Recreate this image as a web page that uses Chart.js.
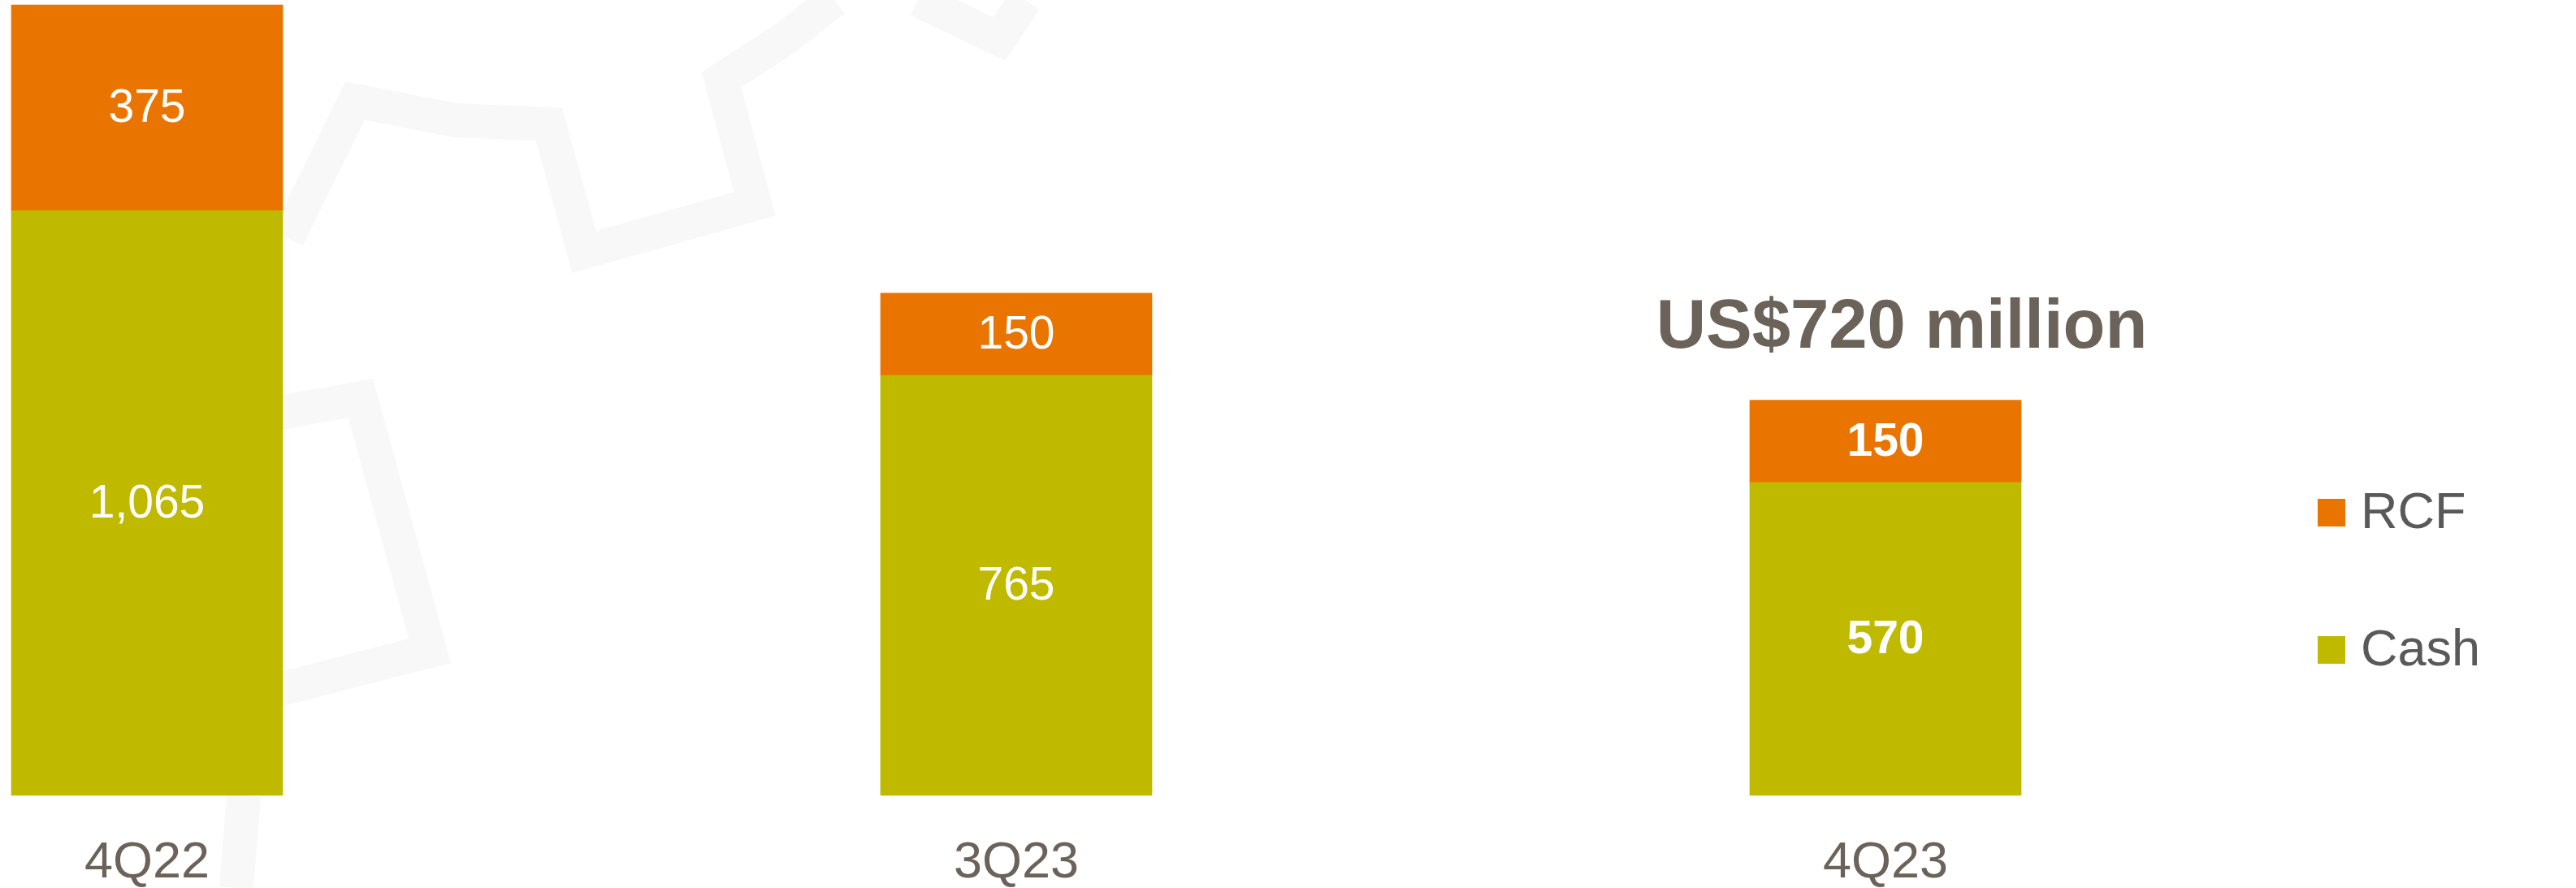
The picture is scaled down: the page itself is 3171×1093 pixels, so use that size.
<!DOCTYPE html>
<html>
<head>
<meta charset="utf-8">
<script src="https://cdn.jsdelivr.net/npm/chart.js@4.4.1/dist/chart.umd.min.js"></script>
<style>
    html, body { margin: 0; padding: 0; background: #ffffff; }
    #wrap { width: 3171px; height: 1093px; position: relative; }
</style>
</head>
<body>
<div id="wrap"><canvas id="liquidityChart"></canvas></div>
<script>
// --- DATA ---
const quarters = ['4Q22', '3Q23', '4Q23'];
const cashValues = [1065, 765, 570];
const rcfValues = [375, 150, 150];
const headline = 'US$720 million';

const FONT = '"Liberation Sans", Arial, sans-serif';
const ORANGE = '#E97500';
const OLIVE = '#BFBA00';

// faint gear watermark behind the bars (decoration only)
const watermark = {
    id: 'watermark',
    beforeDatasetsDraw(chart) {
        const ctx = chart.ctx;
        const strokes = [
            [[354, 293], [437, 124], [560, 148], [676, 153], [719, 310], [929, 251], [888, 98], [964, 49], [1027, 0]],
            [[1130, 0], [1230, 48], [1262, 0]],
            [[300, 516], [444, 490], [529, 801], [300, 860]],
            [[300, 979], [291, 1093]]
        ];
        ctx.save();
        ctx.strokeStyle = '#F8F8F8';
        ctx.lineWidth = 42;
        ctx.lineJoin = 'miter';
        strokes.forEach(pts => {
            ctx.beginPath();
            pts.forEach((p, i) => i ? ctx.lineTo(p[0], p[1]) : ctx.moveTo(p[0], p[1]));
            ctx.stroke();
        });
        ctx.restore();
    }
};

// value labels inside each stacked segment
const segmentLabels = {
    id: 'segmentLabels',
    afterDatasetsDraw(chart) {
        const ctx = chart.ctx;
        ctx.save();
        ctx.fillStyle = '#ffffff';
        ctx.textAlign = 'center';
        ctx.textBaseline = 'middle';
        chart.data.datasets.forEach((ds, di) => {
            chart.getDatasetMeta(di).data.forEach((bar, i) => {
                const last = i === quarters.length - 1;
                ctx.font = (last ? 'bold ' : '') + '57px ' + FONT;
                const midY = (bar.y + bar.base) / 2;
                ctx.fillText(ds.data[i].toLocaleString('en-US'), bar.x, midY + 2);
            });
        });
        // headline above last bar
        const top = chart.getDatasetMeta(1).data[quarters.length - 1];
        ctx.fillStyle = '#6B6259';
        ctx.font = 'bold 85px ' + FONT;
        ctx.fillText(headline, top.x + 20, top.y - 88);
        ctx.restore();
    }
};

// simple vertical legend on the right
const sideLegend = {
    id: 'sideLegend',
    afterDraw(chart) {
        const ctx = chart.ctx;
        ctx.save();
        ctx.textAlign = 'left';
        ctx.textBaseline = 'middle';
        ctx.font = '63px ' + FONT;
        const items = [chart.data.datasets[1], chart.data.datasets[0]];
        items.forEach((ds, k) => {
            const cy = 631 + k * 169;
            ctx.fillStyle = ds.backgroundColor;
            ctx.fillRect(2853, cy - 17, 34, 34);
            ctx.fillStyle = '#595959';
            ctx.fillText(ds.label, 2906, cy + 2);
        });
        ctx.restore();
    }
};

new Chart(document.getElementById('liquidityChart').getContext('2d'), {
    type: 'bar',
    data: {
        labels: quarters,
        datasets: [
            {
                label: 'Cash',
                data: cashValues,
                backgroundColor: OLIVE,
                barThickness: 334,
                clip: false
            },
            {
                label: 'RCF',
                data: rcfValues,
                backgroundColor: ORANGE,
                barThickness: 334,
                clip: false
            }
        ]
    },
    options: {
        responsive: true,
        maintainAspectRatio: false,
        animation: false,
        layout: {
            padding: { left: 181, right: 850, top: 6, bottom: 0 }
        },
        plugins: {
            legend: { display: false },
            tooltip: { enabled: false }
        },
        scales: {
            x: {
                stacked: true,
                offset: false,
                grid: { display: false, drawTicks: false },
                border: { display: false },
                afterFit: (scale) => { scale.height = 114; },
                ticks: {
                    color: '#6B6259',
                    font: { family: FONT, size: 63, lineHeight: 1 },
                    padding: 52,
                    maxRotation: 0
                }
            },
            y: {
                stacked: true,
                display: false,
                min: 0,
                max: 1440
            }
        }
    },
    plugins: [watermark, segmentLabels, sideLegend]
});
</script>
</body>
</html>
